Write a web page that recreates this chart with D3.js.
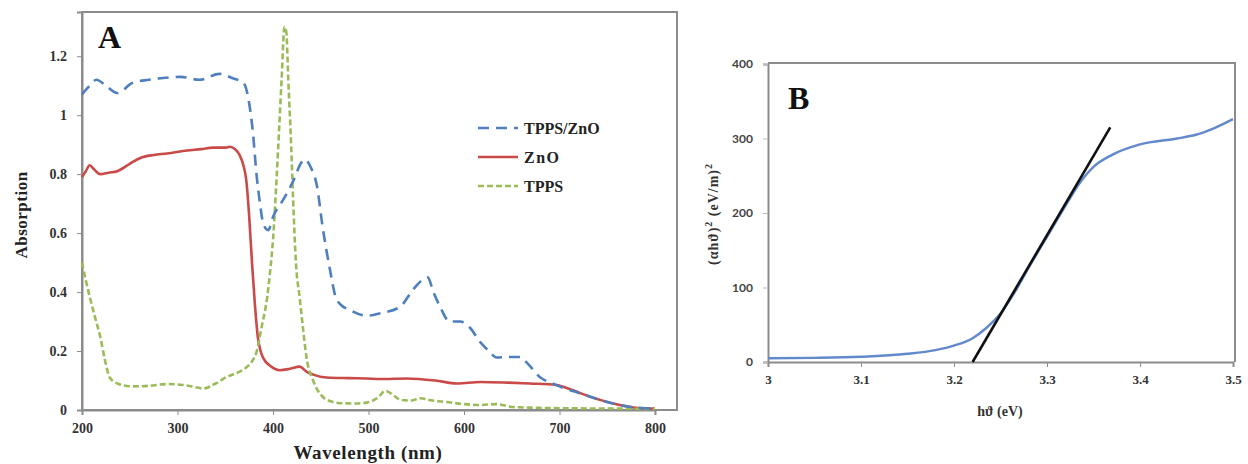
<!DOCTYPE html>
<html>
<head>
<meta charset="utf-8">
<script src="https://cdn.jsdelivr.net/npm/d3@7"></script>
<style>
  body { margin: 0; background: #fff; }
  svg { display: block; }
  .serif { font-family: "Liberation Serif", "DejaVu Serif", serif; font-weight: bold; }
</style>
</head>
<body>
<svg id="chart" width="1248" height="464"></svg>
<script>
// ---- panel A: absorption spectra ----
var aTicksX = [200, 300, 400, 500, 600, 700, 800];
var aTicksY = [0, 0.2, 0.4, 0.6, 0.8, 1, 1.2];

var tppsZnoWl = [200, 208, 215, 225, 237, 253, 270, 282, 303, 323, 344, 358, 369, 374, 379, 383, 386, 390, 395, 400, 412, 423, 428, 433, 440, 446, 452, 460, 465, 470, 480, 498, 515, 533, 547, 556, 562, 568, 575, 585, 596, 606, 617, 626, 634, 645, 659, 666, 680, 693, 700, 720, 750, 771, 790, 800];
var tppsZnoAbs = [1.07, 1.10, 1.12, 1.10, 1.075, 1.11, 1.12, 1.125, 1.13, 1.12, 1.14, 1.125, 1.11, 1.06, 0.94, 0.79, 0.71, 0.63, 0.61, 0.655, 0.72, 0.79, 0.83, 0.85, 0.82, 0.76, 0.62, 0.47, 0.39, 0.36, 0.34, 0.32, 0.33, 0.35, 0.41, 0.44, 0.45, 0.40, 0.35, 0.30, 0.30, 0.28, 0.23, 0.20, 0.178, 0.18, 0.18, 0.16, 0.11, 0.09, 0.08, 0.058, 0.027, 0.012, 0.006, 0.005];

var znoWl = [200, 204, 208, 213, 219, 228, 237, 250, 261, 275, 289, 310, 325, 337, 350, 355, 360, 365, 369, 372, 375, 378, 381, 384, 387, 390, 397, 407, 418, 428, 435, 442, 456, 480, 498, 512, 540, 570, 593, 617, 645, 669, 697, 710, 721, 735, 750, 771, 792, 800];
var znoAbs = [0.79, 0.81, 0.83, 0.815, 0.80, 0.805, 0.81, 0.835, 0.855, 0.865, 0.87, 0.88, 0.885, 0.89, 0.89, 0.893, 0.885, 0.865, 0.83, 0.78, 0.66, 0.50, 0.36, 0.25, 0.20, 0.175, 0.15, 0.135, 0.14, 0.147, 0.13, 0.12, 0.11, 0.108, 0.107, 0.105, 0.107, 0.10, 0.09, 0.095, 0.093, 0.09, 0.085, 0.072, 0.058, 0.042, 0.027, 0.012, 0.005, 0.005];

var tppsWl = [200, 204, 208, 214, 219, 224, 229, 237, 253, 270, 289, 306, 318, 327, 340, 352, 365, 373, 379, 383, 388, 394, 397, 400, 404, 409, 412, 414, 416, 419, 421, 424, 428, 432, 435, 442, 452, 462, 470, 485, 498, 509, 518, 526, 533, 545, 554, 565, 582, 600, 617, 634, 651, 670, 700, 750, 800];
var tppsAbs = [0.50, 0.44, 0.385, 0.31, 0.25, 0.17, 0.11, 0.09, 0.08, 0.082, 0.088, 0.085, 0.078, 0.073, 0.09, 0.113, 0.13, 0.147, 0.17, 0.20, 0.28, 0.385, 0.47, 0.577, 0.80, 1.12, 1.30, 1.28, 1.12, 0.90, 0.72, 0.50, 0.38, 0.26, 0.18, 0.10, 0.045, 0.028, 0.023, 0.022, 0.025, 0.04, 0.065, 0.05, 0.035, 0.032, 0.04, 0.033, 0.027, 0.02, 0.017, 0.02, 0.01, 0.008, 0.006, 0.005, 0.004];

var legendNames = ["TPPS/ZnO", "ZnO", "TPPS"];

// ---- panel B: Tauc plot ----
var bTicksX = [3, 3.1, 3.2, 3.3, 3.4, 3.5];
var bTicksY = [0, 100, 200, 300, 400];
var taucEv = [3.00, 3.05, 3.10, 3.15, 3.18, 3.20, 3.22, 3.235, 3.25, 3.265, 3.28, 3.30, 3.32, 3.335, 3.35, 3.37, 3.40, 3.44, 3.46, 3.48, 3.50];
var taucVal = [5, 5.5, 7, 11, 16, 22, 32, 46, 65, 93, 126, 168, 210, 240, 262, 278, 292, 300, 305, 314, 326];
var fitEv = [3.22, 3.368];
var fitVal = [0, 315];

var svg = d3.select("#chart");

// ================= panel A =================
var xA = d3.scaleLinear().domain([200, 800]).range([82, 655]);
var yA = d3.scaleLinear().domain([0, 1.35]).range([410, 12]);

var gA = svg.append("g");
gA.append("rect")
    .attr("x", 82).attr("y", 12)
    .attr("width", 677 - 82).attr("height", 410 - 12)
    .attr("fill", "none").attr("stroke", "#8c8c8c").attr("stroke-width", 2);

gA.append("g")
    .attr("transform", "translate(0,410)")
    .call(d3.axisBottom(xA).tickValues(aTicksX).tickSize(5).tickPadding(8).tickFormat(d3.format("d")))
    .call(function (g) { g.select(".domain").attr("stroke", "#8c8c8c").attr("stroke-width", 2); })
    .call(function (g) { g.selectAll(".tick line").attr("stroke", "#8c8c8c"); })
    .selectAll("text").attr("class", "serif").attr("font-size", "14px").attr("fill", "#333");

gA.append("g")
    .attr("transform", "translate(82,0)")
    .call(d3.axisLeft(yA).tickValues(aTicksY).tickSize(5).tickPadding(10).tickFormat(function (d) { return String(d); }))
    .call(function (g) { g.select(".domain").attr("stroke", "#8c8c8c").attr("stroke-width", 2); })
    .call(function (g) { g.selectAll(".tick line").attr("stroke", "#8c8c8c"); })
    .selectAll("text").attr("class", "serif").attr("font-size", "14px").attr("fill", "#333");

var lineA = d3.line()
    .x(function (d) { return xA(d[0]); })
    .y(function (d) { return yA(d[1]); })
    .curve(d3.curveMonotoneX);

var seriesA = [
    { wl: tppsZnoWl, abs: tppsZnoAbs, color: "#4f7fbc", dash: "11,7" },
    { wl: znoWl, abs: znoAbs, color: "#c94a47", dash: null },
    { wl: tppsWl, abs: tppsAbs, color: "#9bbb59", dash: "6,3" }
];

// draw order: red below, then green, then blue
[1, 2, 0].forEach(function (i) {
    var s = seriesA[i];
    gA.append("path")
        .datum(d3.zip(s.wl, s.abs))
        .attr("d", lineA)
        .attr("fill", "none")
        .attr("stroke", s.color)
        .attr("stroke-width", 2.6)
        .attr("stroke-dasharray", s.dash);
});

// legend
var legend = gA.append("g").attr("transform", "translate(478,128)");
legendNames.forEach(function (name, i) {
    var s = seriesA[i];
    var row = legend.append("g").attr("transform", "translate(0," + (i * 29) + ")");
    row.append("line")
        .attr("x1", 0).attr("x2", 40)
        .attr("stroke", s.color).attr("stroke-width", 2.6)
        .attr("stroke-dasharray", s.dash);
    row.append("text")
        .attr("class", "serif")
        .attr("x", 46).attr("y", 6)
        .attr("font-size", "16px")
        .attr("fill", "#222")
        .attr("letter-spacing", i == 1 ? "1.5px" : "0px")
        .text(name);
});

gA.append("text").attr("class", "serif")
    .attr("x", 98).attr("y", 48)
    .attr("font-size", "32px").attr("fill", "#111")
    .text("A");

gA.append("text").attr("class", "serif")
    .attr("x", 368).attr("y", 459)
    .attr("text-anchor", "middle")
    .attr("font-size", "19px").attr("fill", "#222")
    .attr("letter-spacing", "0.6px")
    .text("Wavelength (nm)");

gA.append("text").attr("class", "serif")
    .attr("transform", "translate(27,215) rotate(-90)")
    .attr("text-anchor", "middle")
    .attr("font-size", "17px").attr("fill", "#222")
    .attr("letter-spacing", "0.5px")
    .text("Absorption");

// ================= panel B =================
var xB = d3.scaleLinear().domain([3, 3.5]).range([768, 1233]);
var yB = d3.scaleLinear().domain([0, 400]).range([362, 64]);

var gB = svg.append("g");
gB.append("path")
    .attr("d", "M768,63H1235V362")
    .attr("fill", "none").attr("stroke", "#8c8c8c").attr("stroke-width", 2);

gB.append("g")
    .attr("transform", "translate(0,362)")
    .call(d3.axisBottom(xB).tickValues(bTicksX).tickSize(5).tickPadding(8).tickFormat(function (d) { return String(d); }))
    .call(function (g) { g.select(".domain").attr("stroke", "#8c8c8c").attr("stroke-width", 2); })
    .call(function (g) { g.selectAll(".tick line").attr("stroke", "#8c8c8c"); })
    .selectAll("text").attr("class", "serif").attr("font-size", "13px").attr("fill", "#333");

gB.append("g")
    .attr("transform", "translate(768,0)")
    .call(d3.axisLeft(yB).tickValues(bTicksY).tickSize(5).tickPadding(10).tickFormat(d3.format("d")))
    .call(function (g) { g.select(".domain").attr("stroke", "#8c8c8c").attr("stroke-width", 2); })
    .call(function (g) { g.selectAll(".tick line").attr("stroke", "#bbb"); })
    .selectAll("text")
    .attr("font-family", "Lato, 'Open Sans', sans-serif")
    .attr("font-weight", "bold")
    .attr("font-size", "12px").attr("fill", "#444");

var lineB = d3.line()
    .x(function (d) { return xB(d[0]); })
    .y(function (d) { return yB(d[1]); })
    .curve(d3.curveMonotoneX);

gB.append("path")
    .datum(d3.zip(taucEv, taucVal))
    .attr("d", lineB)
    .attr("fill", "none")
    .attr("stroke", "#6189cc")
    .attr("stroke-width", 2.4);

gB.append("path")
    .datum(d3.zip(fitEv, fitVal))
    .attr("d", d3.line().x(function (d) { return xB(d[0]); }).y(function (d) { return yB(d[1]); }))
    .attr("fill", "none")
    .attr("stroke", "#111")
    .attr("stroke-width", 2.6);

gB.append("text").attr("class", "serif")
    .attr("x", 788).attr("y", 109)
    .attr("font-size", "32px").attr("fill", "#111")
    .text("B");

gB.append("text").attr("class", "serif")
    .attr("x", 1000).attr("y", 416)
    .attr("text-anchor", "middle")
    .attr("font-size", "14px").attr("fill", "#333")
    .text("h\u03d1 (eV)");

var yLabB = gB.append("text").attr("class", "serif")
    .attr("transform", "translate(718,214) rotate(-90)")
    .attr("text-anchor", "middle")
    .attr("font-size", "14px").attr("fill", "#333")
    .attr("letter-spacing", "1px");
yLabB.append("tspan").text("(\u03b1h\u03d1)");
yLabB.append("tspan").attr("dy", -6).attr("font-size", "10px").text("2");
yLabB.append("tspan").attr("dy", 6).text(" (eV/m)");
yLabB.append("tspan").attr("dy", -6).attr("font-size", "10px").text("2");
</script>
</body>
</html>
